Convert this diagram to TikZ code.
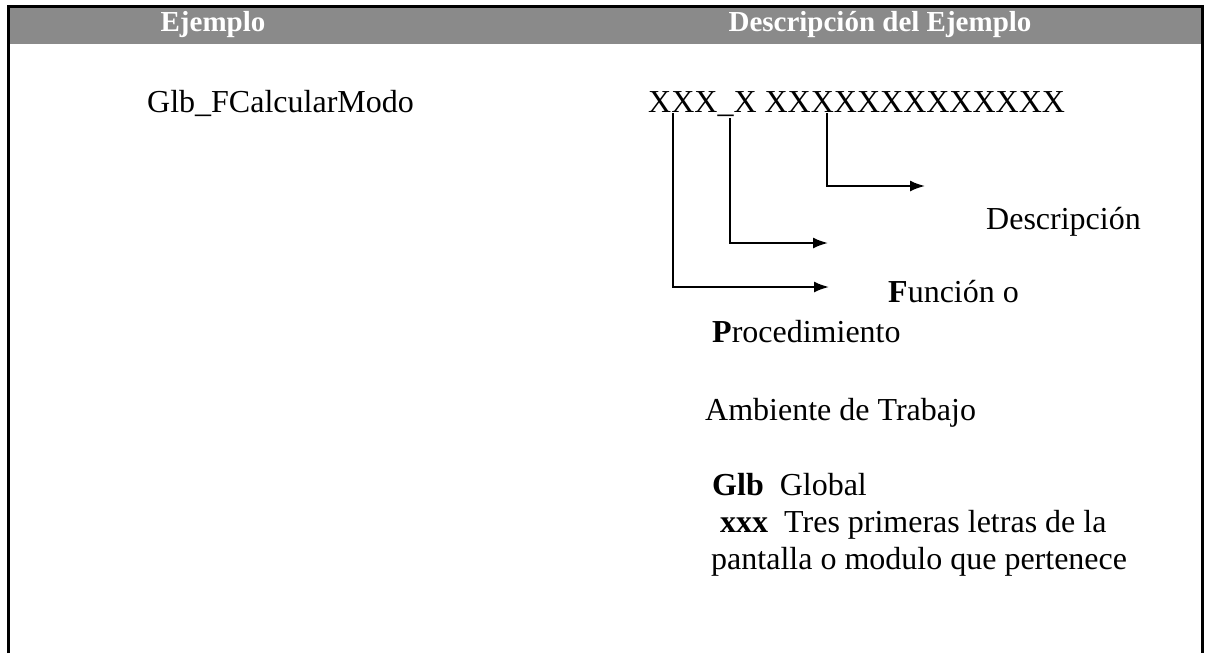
\documentclass[tikz,border=0pt]{standalone}
\usepackage{fontspec}
\setmainfont{Liberation Serif}
\usetikzlibrary{arrows.meta}
\tikzset{
  txt/.style={anchor=base west, inner sep=0pt, font=\fontsize{32}{38}\selectfont},
  head/.style={anchor=center, inner sep=0pt, text=white, font=\bfseries\fontsize{29}{33}\selectfont},
  conn/.style={line width=2pt, -{Latex[length=15pt,width=11pt]}},
}
\begin{document}
\begin{tikzpicture}[x=1pt,y=-1pt]
\useasboundingbox (0,0) rectangle (1209,653);
\fill[white] (0,0) rectangle (1209,653);
% header band
\fill[black!46] (8,6) rectangle (1202,44);
% frame
\draw[line width=3pt] (8,653) -- (8,6) -- (1202,6) -- (1202,653);
\node[head] (h1) at (213,25) {Ejemplo};
\node[head] (h2) at (880,25) {Descripción del Ejemplo};
% texts
\node[txt] (ej) at (147,112) {Glb\_FCalcularModo};
\node[txt] (xs) at (648,112) {XXX\_X XXXXXXXXXXXXX};
\node[txt] (desc) at (986,229) {Descripción};
\node[txt] (fun) at (888,302) {\textbf{F}unción o};
\node[txt] (proc) at (712,342) {\textbf{P}rocedimiento};
\node[txt] (amb) at (705,420) {Ambiente de Trabajo};
\node[txt] (glb) at (712,495) {\textbf{Glb}\ \ Global};
\node[txt] (xxx) at (720,532) {\textbf{xxx}\ \ Tres primeras letras de la};
\node[txt] (pan) at (711,569) {pantalla o modulo que pertenece};
% connectors
\coordinate (s1) at (673,113);
\coordinate (s2) at (730,118);
\coordinate (s3) at (827,113);
\coordinate (e1) at (829,287);
\coordinate (e2) at (828,243);
\coordinate (e3) at (925,186);
\draw[conn] (s1) |- (e1);
\draw[conn] (s2) |- (e2);
\draw[conn] (s3) |- (e3);
\end{tikzpicture}
\end{document}
